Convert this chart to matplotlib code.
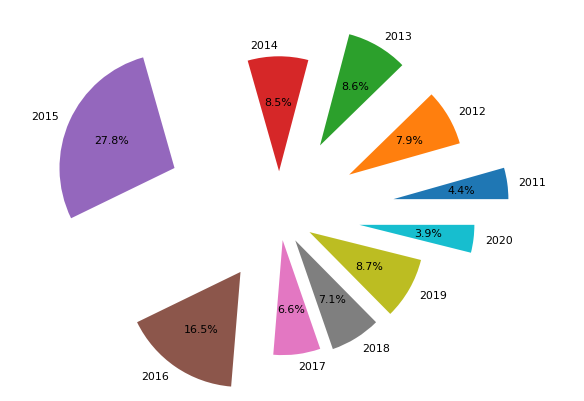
import matplotlib
matplotlib.use('Agg')
import matplotlib.pyplot as plt

# 연도별 비율 (%)
years = ['2011', '2012', '2013', '2014', '2015', '2016', '2017', '2018', '2019', '2020']
shares = [4.4, 7.9, 8.6, 8.5, 27.8, 16.5, 6.6, 7.1, 8.7, 3.9]
explode = [1.0, 0.7, 0.7, 0.38, 1.0, 0.6, 0.22, 0.26, 0.3, 0.7]

fig = plt.figure(figsize=(5.84, 4.02), dpi=100)
ax = fig.add_axes([0.2324, 0.1051, 0.4923, 0.7152])

ax.pie(shares, labels=years, explode=explode, autopct='%1.1f%%',
       textprops={'fontsize': 7.9})
ax.set_xlim(-1.25, 1.25)
ax.set_ylim(-1.25, 1.25)

fig.savefig('out.png', dpi=100)
